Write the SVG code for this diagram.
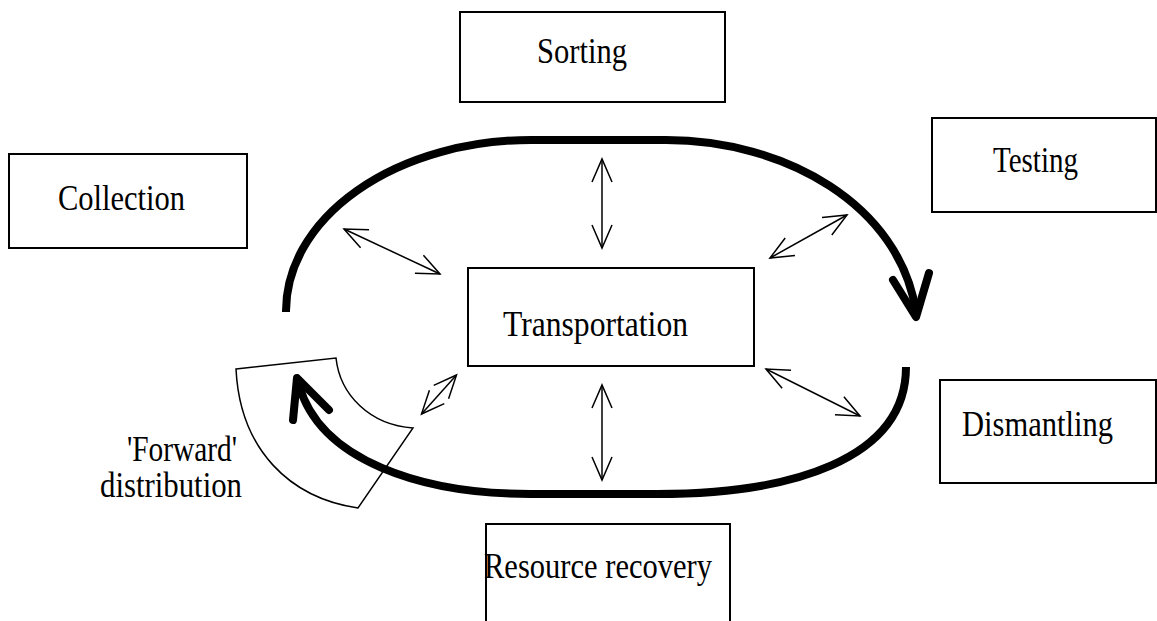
<svg xmlns="http://www.w3.org/2000/svg" width="1157" height="621" viewBox="0 0 1157 621">
  <style>
    .box { fill: #fff; stroke: #000; stroke-width: 2; }
    .lbl { font-family: "Liberation Serif", "Times New Roman", serif; font-size: 35px; fill: #000; }
    .loop { fill: none; stroke: #000; stroke-width: 8; stroke-linecap: butt; }
    .head { fill: none; stroke: #000; stroke-width: 8; stroke-linecap: round; stroke-linejoin: round; }
    .link { fill: none; stroke: #000; stroke-width: 1.5; marker-start: url(#open); marker-end: url(#open); }
    .sector { fill: none; stroke: #000; stroke-width: 1.5; stroke-linejoin: miter; }
  </style>
  <defs>
    <marker id="open" markerUnits="userSpaceOnUse" markerWidth="30" markerHeight="26" viewBox="-26 -13 30 26" refX="0" refY="0" orient="auto-start-reverse" overflow="visible">
      <path d="M-23,-10 L0,0 L-23,10" fill="none" stroke="#000" stroke-width="1.5"/>
    </marker>
  </defs>

  <rect width="1157" height="621" fill="#fff"/>

  <!-- 'Forward' distribution sector -->
  <g id="forward-distribution">
    <path class="sector" d="M236,369 L336,358 C340,395 370,425 413,428 L358,508 C290,498 240,450 236,369 Z"/>
    <text class="lbl" x="127" y="461" textLength="110" lengthAdjust="spacingAndGlyphs">'Forward'</text>
    <text class="lbl" x="100" y="497" textLength="142" lengthAdjust="spacingAndGlyphs">distribution</text>
  </g>

  <!-- Connectors: the reverse-logistics loop and the links to Transportation -->
  <g id="connectors">
    <!-- upper half of the loop -->
    <path class="loop" d="M286,312 A245,171 0 0 1 531,140 L666,140 C785,140 900,205 916,312"/>
    <polyline class="head" points="893,280 916,317 929,273"/>
    <!-- lower half of the loop -->
    <path class="loop" d="M906,367 C906,460 790,494 657,494 L531,494 C420,494 320,460 299,385"/>
    <polyline class="head" points="293,420 297,378 329,410"/>

    <!-- double-headed links -->
    <line class="link" x1="602" y1="159" x2="602" y2="248"/>
    <line class="link" x1="344" y1="229" x2="440" y2="274"/>
    <line class="link" x1="770" y1="258" x2="847" y2="215"/>
    <line class="link" x1="766" y1="369" x2="860" y2="416"/>
    <line class="link" x1="602" y1="385" x2="602" y2="480"/>
    <line class="link" x1="421.5" y1="414" x2="456.5" y2="375"/>
  </g>

  <g id="sorting">
    <rect class="box" x="460" y="12" width="265" height="90"/>
    <text class="lbl" x="537" y="63" textLength="90" lengthAdjust="spacingAndGlyphs">Sorting</text>
  </g>

  <g id="collection">
    <rect class="box" x="9" y="154" width="238" height="94"/>
    <text class="lbl" x="58" y="210" textLength="127" lengthAdjust="spacingAndGlyphs">Collection</text>
  </g>

  <g id="testing">
    <rect class="box" x="932" y="118" width="224" height="94"/>
    <text class="lbl" x="993" y="172" textLength="85" lengthAdjust="spacingAndGlyphs">Testing</text>
  </g>

  <g id="transportation">
    <rect class="box" x="468" y="268" width="286" height="98"/>
    <text class="lbl" x="503" y="336" textLength="185" lengthAdjust="spacingAndGlyphs">Transportation</text>
  </g>

  <g id="dismantling">
    <rect class="box" x="940" y="380" width="216" height="103"/>
    <text class="lbl" x="962" y="436" textLength="151" lengthAdjust="spacingAndGlyphs">Dismantling</text>
  </g>

  <g id="resource-recovery">
    <rect class="box" x="486" y="524" width="244" height="120"/>
    <text class="lbl" x="484" y="578" textLength="228" lengthAdjust="spacingAndGlyphs">Resource recovery</text>
  </g>
</svg>
